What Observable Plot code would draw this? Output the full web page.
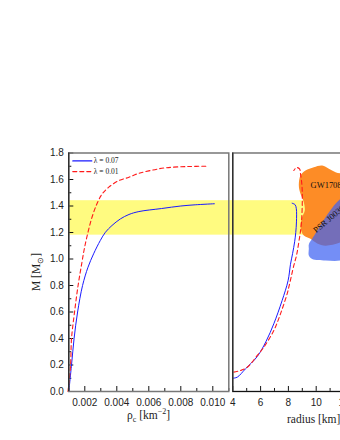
<!DOCTYPE html>
<html><head><meta charset="utf-8">
<script src="https://cdn.jsdelivr.net/npm/d3@7"></script>
<script src="https://cdn.jsdelivr.net/npm/@observablehq/plot@0.6"></script>
<style>
body{margin:0;background:#fff;}
#wrap{position:relative;width:340px;height:440px;overflow:hidden;background:#fff;}
#left,#right{position:absolute;top:0;}
#left{left:0;width:230px;}
#right{left:226px;width:400px;}
#left svg,#right svg{max-width:none !important;}
.lab{position:absolute;font-family:"Liberation Serif","Times New Roman",serif;font-size:11.5px;color:#222;white-space:nowrap;line-height:13px;}
.lab sub,.lab sup{font-size:8px;line-height:0;}
</style></head><body>
<div id="wrap">
<div id="right"></div>
<div id="left"></div>
<div class="lab" id="xl1" style="left:148.5px;top:415px;transform:translate(-50%,-50%);">ρ<sub>c</sub> [km<sup>−2</sup>]</div>
<div class="lab" id="xl2" style="left:287px;top:413px;">radius [km]</div>
<div class="lab" id="yl" style="left:36px;top:272px;transform:translate(-50%,-50%) rotate(-90deg);">M [M<sub>⊙</sub>]</div>
</div>
<script>
// ---- data ----
const rhoBlue  = [0.00100,0.00117,0.00133,0.00155,0.00186,0.00220,0.00255,0.00297,0.00329,0.00370,0.00423,0.00476,0.00538,0.00680,0.00800,0.00890,0.01010];
const massBlueRho = [0.00,0.20,0.40,0.60,0.80,0.938,1.039,1.140,1.202,1.253,1.303,1.336,1.358,1.381,1.400,1.409,1.417];
const rhoRed   = [0.00095,0.00111,0.00117,0.00136,0.00158,0.00180,0.00195,0.00215,0.00245,0.00276,0.00308,0.00350,0.00413,0.00476,0.00528,0.00600,0.00703,0.00850,0.00972];
const massRedRho = [0.00,0.20,0.40,0.60,0.80,0.96,1.064,1.177,1.315,1.417,1.490,1.542,1.592,1.617,1.643,1.665,1.688,1.698,1.700];

const radBlue  = [4.00,4.32,4.91,5.76,6.40,6.95,7.55,7.98,8.15,8.30,8.45,8.53,8.58,8.57,8.48,8.27];
const massBlueR = [0.100,0.108,0.171,0.264,0.380,0.511,0.687,0.838,0.960,1.040,1.130,1.200,1.280,1.380,1.410,1.421];
const radRed   = [4.07,4.55,5.04,5.76,6.23,6.95,7.43,7.91,8.03,8.39,8.58,8.75,8.94,8.99,8.87,8.80,8.58,8.39];
const massRedR = [0.146,0.158,0.183,0.272,0.334,0.460,0.586,0.737,0.787,0.951,1.026,1.127,1.278,1.530,1.643,1.680,1.690,1.668];

const gwR = [8.87,9.23,9.83,10.43,10.91,11.39,12.10,13.20,12.80,11.75,10.67,10.07,9.59,9.11,8.87,8.99,9.18,9.11,8.87,8.75];
const gwM = [1.630,1.668,1.693,1.706,1.681,1.655,1.630,1.440,1.180,1.125,1.100,1.117,1.152,1.177,1.240,1.315,1.366,1.429,1.492,1.555];
const psrR = [9.47,9.47,9.71,10.67,11.75,13.20,13.20,11.75,9.71,9.47];
const psrM = [1.077,1.026,1.000,0.989,0.989,1.060,1.517,1.454,1.152,1.110];

const bandLo = 1.18, bandHi = 1.44;
const rhoTicks = [0.002,0.004,0.006,0.008,0.010];
const rhoMinor = [0.001,0.003,0.005,0.007,0.009,0.011];
const massTicks = [0.0,0.2,0.4,0.6,0.8,1.0,1.2,1.4,1.6,1.8];
const massMinor = [0.1,0.3,0.5,0.7,0.9,1.1,1.3,1.5,1.7];
const radTicks = [4,6,8,10,12,14,16];
const radMinor = [5,7,9,11,13,15];
const legendLabels = ["λ = 0.07","λ = 0.01"];
const gwLabel = "GW170817", psrLabel = "PSR J0030+0451";

// ---- layout ----
const H = 440, mTop = 152.5, mBot = 49;
const yDom = [0,1.8];
const pxPerM = (H - mTop - mBot) / (yDom[1]-yDom[0]);
const lDom = [0.001,0.011], lLeft = 68.3, lRight = 228.3;
const pxPerRho = (lRight - lLeft) / (lDom[1]-lDom[0]);
const rDom = [4,16], rSvgLeft = 226, rLeft = 232.3, pxPerR = 13.9;
const rWidth = (rLeft - rSvgLeft) + (rDom[1]-rDom[0])*pxPerR + 10;

const blue = "#1a1aff", red = "#ff1a1a";
const pairs = (a,b) => a.map((v,i)=>({x:v,y:b[i]}));
const fontStyle = {background:"transparent", fontFamily:"'Liberation Sans', Arial, sans-serif", fontSize:"10px", color:"#222", overflow:"visible", maxWidth:"none"};

// left panel
const tickLenM = px => px / pxPerM;
const tickLenRho = px => px / pxPerRho;
const left = Plot.plot({
  width: 230, height: H,
  marginTop: mTop, marginBottom: mBot, marginLeft: lLeft, marginRight: 230 - lRight,
  style: fontStyle,
  x: {domain: lDom, ticks: rhoTicks, tickFormat: d3.format(".3f"), tickSize: 0, tickPadding: 7, label: null},
  y: {domain: yDom, ticks: massTicks, tickFormat: d3.format(".1f"), tickSize: 0, tickPadding: 5, label: null},
  marks: [
    Plot.rect([{x1: lDom[0], x2: lDom[1], y1: bandLo, y2: bandHi}], {x1:"x1", x2:"x2", y1:"y1", y2:"y2", fill:"#fffb80"}),
    Plot.ruleX(rhoTicks, {x: d=>d, y1: yDom[0], y2: yDom[0]+tickLenM(5), stroke:"#111"}),
    Plot.ruleX(rhoMinor, {x: d=>d, y1: yDom[0], y2: yDom[0]+tickLenM(3), stroke:"#111"}),
    Plot.ruleY(massTicks, {y: d=>d, x1: lDom[0], x2: lDom[0]+tickLenRho(5), stroke:"#111"}),
    Plot.ruleY(massMinor, {y: d=>d, x1: lDom[0], x2: lDom[0]+tickLenRho(3), stroke:"#111"}),
    Plot.line(pairs(rhoBlue, massBlueRho), {x:"x", y:"y", stroke: blue, strokeWidth: 1, curve:"catmull-rom"}),
    Plot.line(pairs(rhoRed, massRedRho), {x:"x", y:"y", stroke: red, strokeWidth: 1.1, strokeDasharray:"4,3", curve:"catmull-rom"}),
    // legend
    Plot.line([{x:lDom[0]+tickLenRho(4),y:1.74},{x:lDom[0]+tickLenRho(23),y:1.74}], {x:"x", y:"y", stroke: blue, strokeWidth: 1.2}),
    Plot.line([{x:lDom[0]+tickLenRho(4),y:1.66},{x:lDom[0]+tickLenRho(23),y:1.66}], {x:"x", y:"y", stroke: red, strokeWidth: 1.2, strokeDasharray:"4,3"}),
    Plot.text([legendLabels[0]], {x: lDom[0]+tickLenRho(25), y: 1.74, text: d=>d, textAnchor:"start", fontSize: 7.5, fontFamily:"'Liberation Serif', serif", fill:"#222"}),
    Plot.text([legendLabels[1]], {x: lDom[0]+tickLenRho(25), y: 1.66, text: d=>d, textAnchor:"start", fontSize: 7.5, fontFamily:"'Liberation Serif', serif", fill:"#222"}),
    Plot.frame({stroke:"#777", strokeWidth: 1.5}),
    Plot.ruleX([lDom[0]], {stroke:"#111", strokeWidth: 1})
  ]
});
document.getElementById("left").appendChild(left);

// right panel
const tickLenR = px => px / pxPerR;
const right = Plot.plot({
  width: rWidth, height: H,
  marginTop: mTop, marginBottom: mBot, marginLeft: rLeft - rSvgLeft, marginRight: 10,
  style: fontStyle,
  x: {domain: rDom, ticks: radTicks, tickFormat: d3.format("d"), tickSize: 0, tickPadding: 7, label: null},
  y: {domain: yDom, axis: null},
  marks: [
    Plot.rect([{x1: rDom[0]-tickLenR(rLeft - rSvgLeft - 2), x2: rDom[1], y1: bandLo, y2: bandHi}], {x1:"x1", x2:"x2", y1:"y1", y2:"y2", fill:"#fffb80"}),
    Plot.line(pairs(gwR, gwM), {x:"x", y:"y", fill:"#fd8c26", stroke:"none", curve:"catmull-rom-closed"}),
    Plot.line(pairs(psrR, psrM), {x:"x", y:"y", fill:"#3f63f2", fillOpacity: 0.72, stroke:"none", curve:"catmull-rom-closed"}),
    Plot.text([gwLabel], {x: 9.59, y: 1.56, text: d=>d, textAnchor:"start", fontSize: 8.5, fontFamily:"'Liberation Serif', serif", fill:"#111"}),
    Plot.text([psrLabel], {x: 9.88, y: 1.21, text: d=>d, textAnchor:"start", rotate: -40, fontSize: 8.5, fontFamily:"'Liberation Serif', serif", fill:"#111"}),
    Plot.ruleX(radTicks, {x: d=>d, y1: yDom[0], y2: yDom[0]+tickLenM(5), stroke:"#111"}),
    Plot.ruleX(radMinor, {x: d=>d, y1: yDom[0], y2: yDom[0]+tickLenM(3), stroke:"#111"}),
    Plot.line(pairs(radBlue, massBlueR), {x:"x", y:"y", stroke: blue, strokeWidth: 1, curve:"catmull-rom"}),
    Plot.line(pairs(radRed, massRedR), {x:"x", y:"y", stroke: red, strokeWidth: 1.1, strokeDasharray:"4,3", curve:"catmull-rom"}),
    Plot.frame({stroke:"#777", strokeWidth: 1.5}),
    Plot.ruleX([rDom[0]], {stroke:"#111", strokeWidth: 1}),
    Plot.ruleY([yDom[0]], {stroke:"#111", strokeWidth: 1})
  ]
});
document.getElementById("right").appendChild(right);
</script>
</body></html>
